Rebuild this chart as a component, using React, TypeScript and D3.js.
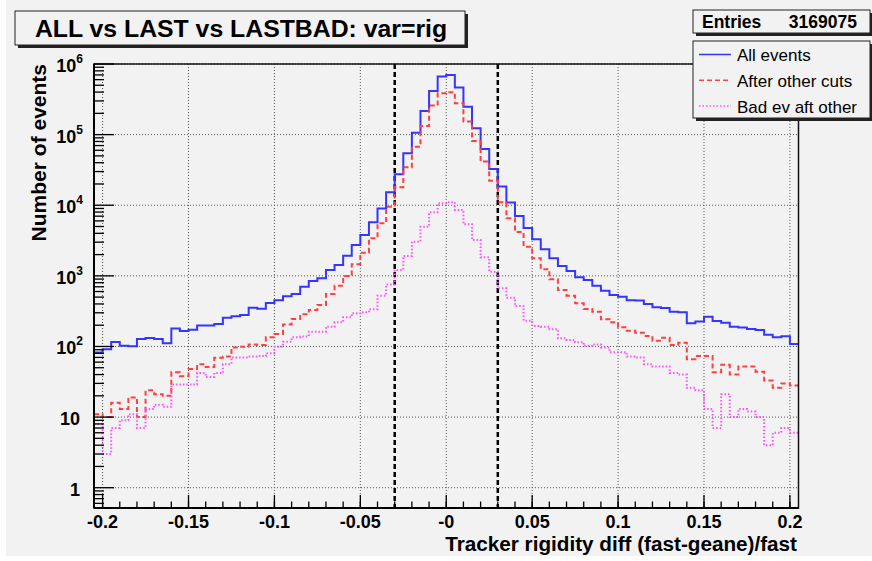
import React from "react";
import * as d3 from "d3";

// Histogram binning: 82 bins of width 0.005 starting at -0.205
const BIN_LOW = -0.205;
const BIN_WIDTH = 0.005;

const allEvents = [
  82, 91, 116, 102, 101, 128, 132, 128, 111, 179, 166, 173, 198, 198, 208, 256, 268, 279, 354, 343,
  413, 451, 515, 554, 703, 847, 925, 1212, 1427, 1932, 2741, 3796, 5745, 9010, 15290, 27560, 54540,
  106700, 216700, 416000, 663000, 701000, 463000, 249000, 123000, 62700, 32700, 18350, 10960, 7050,
  4770, 3300, 2380, 1775, 1380, 1173, 955, 875, 727, 617, 536, 508, 451, 446, 400, 359, 351, 311, 305,
  213, 225, 264, 230, 217, 191, 185, 177, 171, 146, 135, 139, 108,
];

const afterOtherCuts = [
  11, 10, 16, 13, 19, 10, 24, 21, 20, 43, 38, 48, 56, 51, 69, 72, 97, 99, 107, 105, 135, 150, 205,
  245, 286, 329, 387, 554, 727, 997, 1459, 2132, 3410, 5560, 9550, 18000, 34500, 67600, 132800,
  257600, 386000, 399000, 278600, 152800, 81400, 41500, 22300, 11030, 6540, 4190, 2593, 1775, 1240,
  895, 631, 524, 409, 340, 311, 243, 220, 187, 167, 157, 141, 121, 133, 105, 113, 66, 73, 73, 43, 55,
  40, 52, 52, 44, 33, 26, 30, 28,
];

const badAfterOther = [
  8, 3, 7, 9, 11, 7, 13, 15, 14, 29, 29, 29, 42, 37, 42, 56, 70, 70, 72, 73, 80, 99, 117, 135, 138,
  162, 162, 191, 220, 259, 295, 305, 336, 524, 755, 1212, 1914, 3050, 4977, 7960, 10670, 11030, 8580,
  5380, 3223, 1834, 1146, 667, 491, 375, 232, 195, 191, 175, 131, 124, 115, 102, 107, 97, 83, 83, 72,
  70, 56, 52, 52, 42, 40, 26, 24, 13, 7, 21, 10, 13, 12, 10, 4, 6, 7, 6,
];

const xTickValues = [-0.2, -0.15, -0.1, -0.05, 0, 0.05, 0.1, 0.15, 0.2];
const xTickLabels = ["-0.2", "-0.15", "-0.1", "-0.05", "-0", "0.05", "0.1", "0.15", "0.2"];
const yTickExponents = [0, 1, 2, 3, 4, 5, 6];
const cutValues = [-0.03, 0.03];

const titleText = "ALL vs LAST vs LASTBAD: var=rig";
const entriesValue = "3169075";
const xTitle = "Tracker rigidity diff (fast-geane)/fast";
const yTitle = "Number of events";

const FONT = "'Liberation Sans', Arial, Helvetica, sans-serif";
const BG = "#f2f2f2";

const series = [
  { name: "All events", values: allEvents, color: "#3535ff", dash: "none" },
  { name: "After other cuts", values: afterOtherCuts, color: "#ff4040", dash: "5,3" },
  { name: "Bad ev aft other", values: badAfterOther, color: "#ff50ff", dash: "1.5,2" },
];

const W = 872;
const H = 561;
const frame = { left: 94, right: 798.5, top: 64, bottom: 508 };

export default function App() {
  const x = d3.scaleLinear().domain([BIN_LOW, -BIN_LOW]).range([frame.left, frame.right]);
  const y = d3.scaleLog().domain([0.516, 1e6]).range([frame.bottom, frame.top]);

  const stepLine = d3
    .line<[number, number]>()
    .x((d) => x(d[0]))
    .y((d) => y(d[1]))
    .curve(d3.curveStepAfter);

  const histPath = (vals: number[]) => {
    const pts: [number, number][] = vals.map((v, i) => [BIN_LOW + i * BIN_WIDTH, v]);
    pts.push([BIN_LOW + vals.length * BIN_WIDTH, vals[vals.length - 1]]);
    return stepLine(pts) || "";
  };

  // minor ticks
  const xMinor = d3.range(-20, 21).map((k) => k / 100);
  const yMinor: number[] = [];
  for (let e = -1; e <= 5; e++) {
    for (let m = 2; m <= 9; m++) {
      const v = m * Math.pow(10, e);
      if (v >= 0.516 && v <= 1e6) yMinor.push(v);
    }
  }

  return (
    <div style={{ position: "absolute", left: 0, top: 0 }}>
      <svg width={W} height={H} style={{ display: "block", fontFamily: FONT }}>
        <rect x={0} y={0} width={W} height={H} fill="#ffffff" />
        <rect x={6} y={0} width={W - 6} height={556} fill={BG} />

        {/* grid */}
        <g stroke="#555" strokeWidth={1} strokeDasharray="1,2">
          {xTickValues.map((v) => (
            <line key={"gx" + v} x1={x(v)} x2={x(v)} y1={frame.top} y2={frame.bottom} />
          ))}
          {yTickExponents.map((e) => (
            <line
              key={"gy" + e}
              x1={frame.left}
              x2={frame.right}
              y1={y(Math.pow(10, e))}
              y2={y(Math.pow(10, e))}
            />
          ))}
        </g>

        {/* cut lines */}
        <g stroke="#000" strokeWidth={2.5} strokeDasharray="5,3">
          {cutValues.map((v) => (
            <line key={"cut" + v} x1={x(v)} x2={x(v)} y1={frame.top} y2={frame.bottom} />
          ))}
        </g>

        {/* histograms */}
        {series.map((s) => (
          <path
            key={s.name}
            d={histPath(s.values)}
            fill="none"
            stroke={s.color}
            strokeWidth={2}
            strokeDasharray={s.dash}
          />
        ))}

        {/* frame */}
        <rect
          x={frame.left}
          y={frame.top}
          width={frame.right - frame.left}
          height={frame.bottom - frame.top}
          fill="none"
          stroke="#111"
          strokeWidth={1.5}
        />
        <line x1={frame.left} x2={frame.right} y1={frame.bottom} y2={frame.bottom} stroke="#000" strokeWidth={2} />
        <line x1={frame.left} x2={frame.left} y1={frame.top} y2={frame.bottom} stroke="#000" strokeWidth={2} />

        {/* x ticks */}
        <g stroke="#000" strokeWidth={1.3}>
          {xMinor.map((v) => (
            <line key={"xm" + v} x1={x(v)} x2={x(v)} y1={frame.bottom} y2={frame.bottom - 6.5} />
          ))}
          {xTickValues.map((v) => (
            <line key={"xM" + v} x1={x(v)} x2={x(v)} y1={frame.bottom} y2={frame.bottom - 13} />
          ))}
        </g>
        {/* y ticks */}
        <g stroke="#000" strokeWidth={1.3}>
          {yMinor.map((v) => (
            <line key={"ym" + v} x1={frame.left} x2={frame.left + 10} y1={y(v)} y2={y(v)} />
          ))}
          {yTickExponents.map((e) => (
            <line
              key={"yM" + e}
              x1={frame.left}
              x2={frame.left + 20}
              y1={y(Math.pow(10, e))}
              y2={y(Math.pow(10, e))}
            />
          ))}
        </g>

        {/* x tick labels */}
        <g fontWeight="bold" fontSize={18} textAnchor="middle" fill="#000">
          {xTickValues.map((v, i) => (
            <text key={"xl" + v} x={x(v)} y={528}>
              {xTickLabels[i]}
            </text>
          ))}
        </g>

        {/* y tick labels */}
        <g fontWeight="bold" fontSize={18} textAnchor="end" fill="#000">
          {yTickExponents.map((e) => {
            const ty = y(Math.pow(10, e)) + 8;
            if (e === 0)
              return (
                <text key={"yl" + e} x={80} y={ty}>
                  1
                </text>
              );
            if (e === 1)
              return (
                <text key={"yl" + e} x={80} y={ty}>
                  10
                </text>
              );
            return (
              <text key={"yl" + e} x={83} y={ty}>
                10
                <tspan fontSize={12} dy={-9}>
                  {e}
                </tspan>
              </text>
            );
          })}
        </g>

        {/* axis titles */}
        <text x={797} y={551} textAnchor="end" fontWeight="bold" fontSize={20.7} fill="#000">
          {xTitle}
        </text>
        <text
          transform={`translate(46, ${frame.top}) rotate(-90)`}
          textAnchor="end"
          fontWeight="bold"
          fontSize={21}
          fill="#000"
        >
          {yTitle}
        </text>

        {/* title box */}
        <rect x={18} y={14} width={450} height={34} fill="#222" />
        <rect x={15} y={11} width={450} height={34} fill={BG} stroke="#222" strokeWidth={1} />
        <text x={241} y={36.5} textAnchor="middle" fontWeight="bold" fontSize={24.8} fill="#000">
          {titleText}
        </text>

        {/* stats box */}
        <rect x={696} y={13} width={177} height={23} fill="#222" />
        <rect x={693} y={10} width={177} height={23} fill={BG} stroke="#222" strokeWidth={1} />
        <text x={702} y={28} fontWeight="bold" fontSize={17.5} fill="#000">
          Entries
        </text>
        <text x={857} y={28} textAnchor="end" fontWeight="bold" fontSize={17.5} fill="#000">
          {entriesValue}
        </text>

        {/* legend */}
        <rect x={696} y={44} width={177} height={77} fill="#222" />
        <rect x={693} y={41} width={177} height={77} fill={BG} stroke="#222" strokeWidth={1} />
        {series.map((s, i) => {
          const ly = 54.5 + i * 25.8;
          return (
            <g key={"lg" + s.name}>
              <line
                x1={699}
                x2={731}
                y1={ly}
                y2={ly}
                stroke={s.color}
                strokeWidth={1.5}
                strokeDasharray={s.dash}
              />
              <text x={737} y={ly + 6.5} fontSize={17} fill="#000">
                {s.name}
              </text>
            </g>
          );
        })}
      </svg>
    </div>
  );
}
